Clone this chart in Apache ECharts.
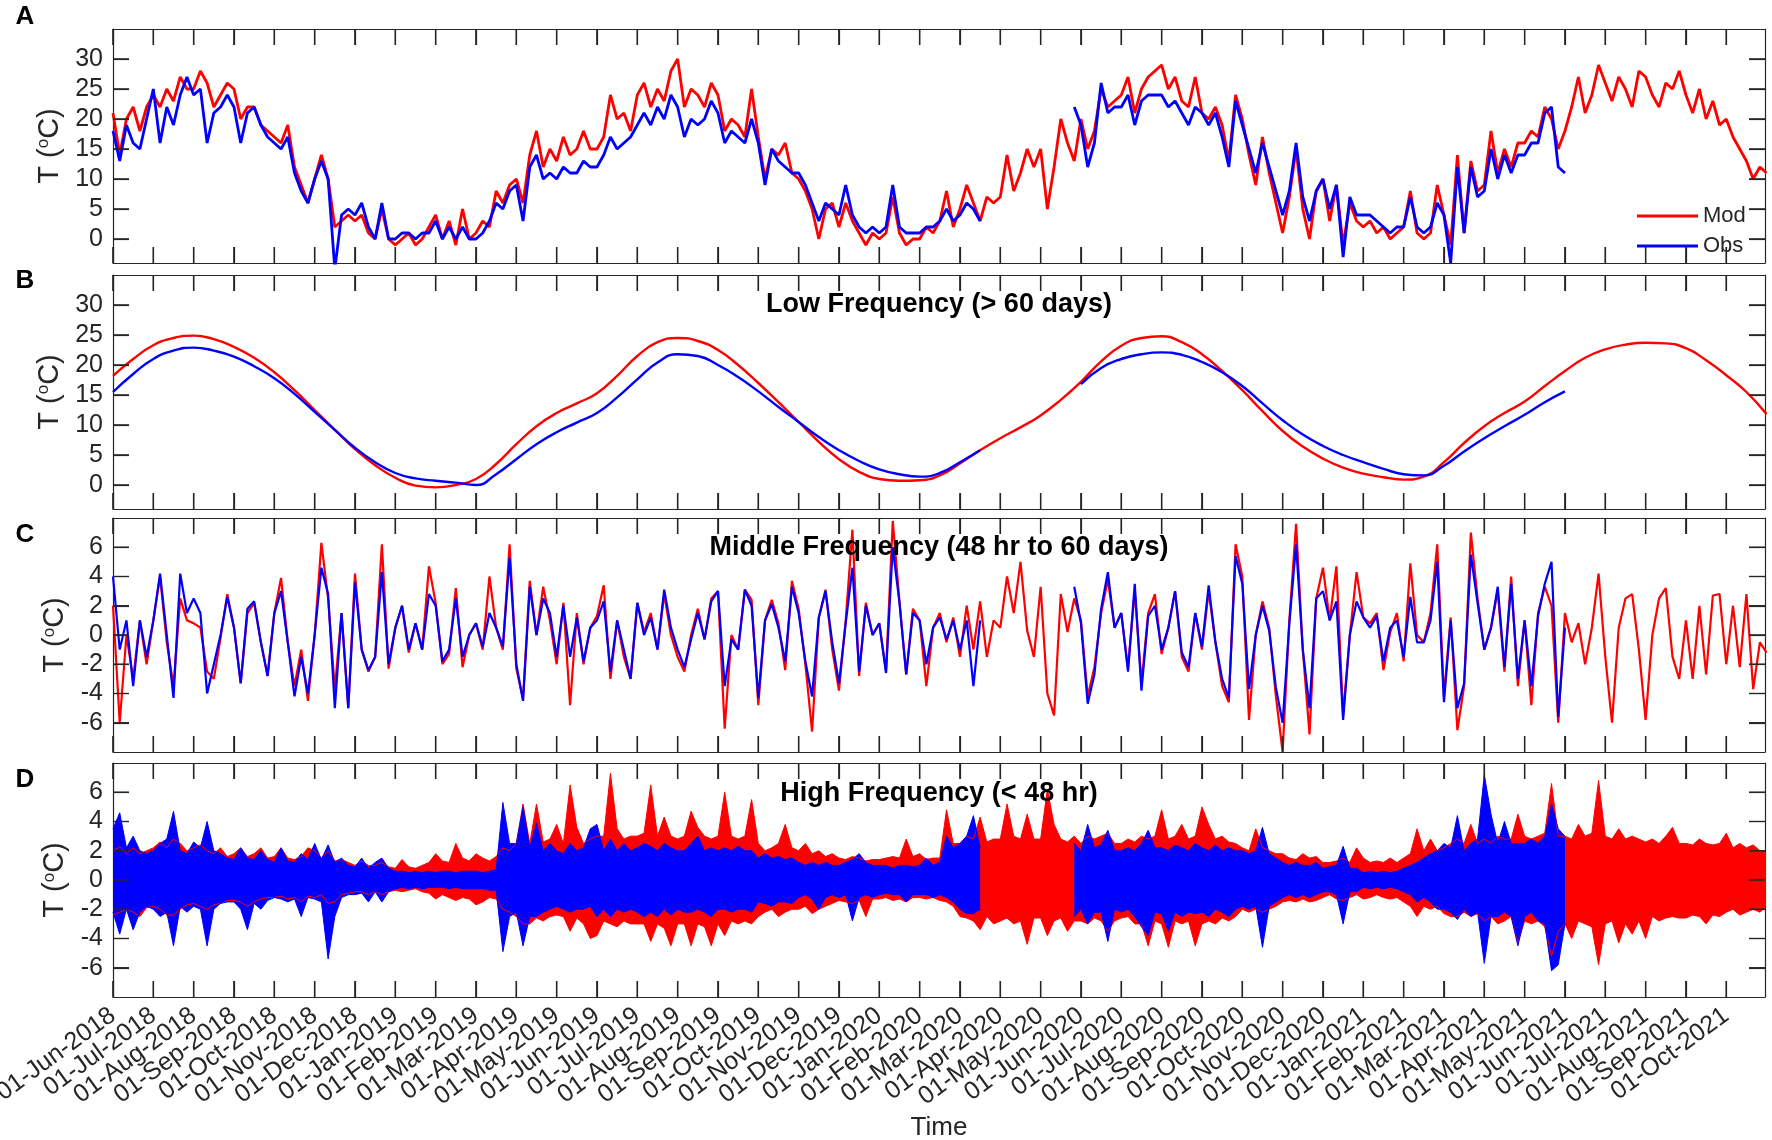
<!DOCTYPE html>
<html>
<head>
<meta charset="utf-8">
<script src="https://cdn.jsdelivr.net/npm/echarts@6/dist/echarts.min.js"></script>
<style>
  html, body { margin: 0; padding: 0; background: #fff; }
  #chart { width: 1772px; height: 1140px; }
</style>
</head>
<body>
<div id="chart"></div>
<script>
// month tick labels (x axis, one per month start)
var monthLabels = [
  '01-Jun-2018','01-Jul-2018','01-Aug-2018','01-Sep-2018','01-Oct-2018','01-Nov-2018','01-Dec-2018',
  '01-Jan-2019','01-Feb-2019','01-Mar-2019','01-Apr-2019','01-May-2019','01-Jun-2019','01-Jul-2019',
  '01-Aug-2019','01-Sep-2019','01-Oct-2019','01-Nov-2019','01-Dec-2019','01-Jan-2020','01-Feb-2020',
  '01-Mar-2020','01-Apr-2020','01-May-2020','01-Jun-2020','01-Jul-2020','01-Aug-2020','01-Sep-2020',
  '01-Oct-2020','01-Nov-2020','01-Dec-2020','01-Jan-2021','01-Feb-2021','01-Mar-2021','01-Apr-2021',
  '01-May-2021','01-Jun-2021','01-Jul-2021','01-Aug-2021','01-Sep-2021','01-Oct-2021'
];
var yTicksTemp = [0, 5, 10, 15, 20, 25, 30];
var yTicksAnom = [-6, -4, -2, 0, 2, 4, 6];

// panel A: temperature, 6 samples per month (step 1/6 month)
var modA = [
  21,14,20,22,18,22, 24,22,25,23,27,25, 25,28,26,22,24,26, 25,20,22,22,19,18,
  17,16,19,12,9,6, 10,14,10,2,3,4, 3,4,1,0,5,0, -1,0,1,-1,0,2,
  4,0,3,-1,5,0, 1,3,2,8,6,9, 10,6,14,18,12,15, 13,17,14,15,18,15,
  15,17,24,20,21,18, 24,26,22,25,23,28, 30,22,25,24,22,26, 24,18,20,19,17,25,
  17,10,15,14,16,11, 10,8,5,0,5,6, 2,6,3,1,-1,1, 0,1,7,1,-1,0,
  0,2,1,3,8,2, 5,9,6,3,7,6, 7,14,8,11,15,12, 15,5,12,20,16,13,
  20,15,18,25,22,23, 24,27,21,25,27,28, 29,25,27,23,22,27, 21,20,22,19,13,24,
  20,14,9,17,11,6, 1,7,15,5,0,8, 10,3,9,-1,6,3, 2,3,1,2,0,1,
  2,8,1,0,1,9, 4,-1,14,1,13,8, 9,18,11,15,12,16, 16,18,17,22,20,15,
  18,22,27,21,24,29, 26,23,27,25,22,28, 27,24,22,26,25,28, 24,21,25,20,23,19,
  20,17,15,13,10,12, 11
];
var obsA = [
  18,13,19,16,15,20, 25,16,22,19,24,27, 24,25,16,21,22,24, 22,16,21,22,19,17,
  16,15,17,11,8,6, 10,13,10,-5,4,5, 4,6,2,0,6,0, 0,1,1,0,1,1,
  3,0,2,0,2,0, 0,1,3,6,5,8, 9,3,12,14,10,11, 10,12,11,11,13,12,
  12,14,17,15,16,17, 19,21,19,22,20,24, 22,17,20,19,20,23, 21,16,18,17,16,20,
  16,9,15,13,12,11, 11,9,6,3,6,5, 4,9,4,2,1,2, 1,2,9,2,1,1,
  1,2,2,3,5,3, 4,6,5,3,null,null, null,null,null,null,null,null, null,null,null,null,null,22,
  19,12,16,26,21,22, 22,24,19,23,24,24, 24,22,23,21,19,22, 21,19,21,17,12,23,
  19,15,11,16,12,8, 4,8,16,7,3,8, 10,5,9,-3,7,4, 4,4,3,2,1,2,
  2,7,2,1,2,6, 4,-4,12,1,12,7, 8,15,10,14,11,14, 14,16,16,21,22,12,
  11
];

// panel B: low frequency, step 1/2 month
var modB = [
  18.2,21.0,23.3,24.5,24.9,24.3,23.0,21.2,18.8,15.8,
  12.5,9.2,6.0,3.3,1.2,-0.1,-0.4,0.0,1.0,3.5,
  6.8,9.8,12.0,13.6,15.3,18.2,21.5,23.8,24.5,24.0,
  22.5,20.0,17.0,13.8,10.5,7.2,4.3,2.2,1.0,0.7,
  0.8,1.6,3.6,5.8,7.8,9.6,11.6,14.2,17.2,20.6,
  23.2,24.5,24.8,23.8,21.8,19.0,15.8,12.3,9.0,6.4,
  4.4,2.9,1.9,1.3,0.9,1.4,3.8,7.0,9.8,12.0,
  13.9,16.5,19.0,21.2,22.6,23.4,23.7,23.6,22.8,20.8,
  18.3,15.5,11.8
];
var obsB = [
  15.5,18.5,21.0,22.4,22.9,22.4,21.4,19.8,17.8,15.2,
  12.2,9.2,6.2,3.8,2.0,1.1,0.7,0.4,0.0,1.8,
  4.3,6.8,8.8,10.4,12.0,14.6,17.6,20.4,21.8,21.5,
  20.0,18.0,15.6,13.0,10.5,8.0,5.8,4.0,2.6,1.8,
  1.4,2.0,3.8,5.8,null,null,null,null,16.8,19.5,
  21.0,21.8,22.1,21.7,20.5,18.8,16.5,13.6,10.8,8.4,
  6.5,5.0,3.8,2.7,1.8,1.6,3.2,5.6,7.8,9.8,
  11.7,13.8,15.6
];

// panel C: middle frequency, step 1/6 month
var modC = [
  2,-6,0,-3,1,-2, 1,4,-0.5,-3.5,2.5,1, 0.8,0.5,-2.5,-3,-0.2,2.8, 0.5,-3.3,1.5,2.2,-0.5,-2.8,
  1.5,3.9,-0.5,-3.5,-1,-4.5, 0,6.3,2.5,-3.7,1.5,-5, 4.2,-1,-2.5,-1.5,6.2,-2.3, 0.5,2,-1.2,0.8,-1,4.7,
  2.2,-2,-1.3,3.2,-2.2,0, 0.8,-1,4,0.5,-1,6.2, -2.3,-4.4,3.7,0,3.3,1, -2,2.2,-4.8,1.5,-2,0.5,
  1.3,3.4,-3,1,-1.5,-3, 2.2,0.2,1.5,-1,2.8,0, -1.5,-2.5,0,1.8,-0.3,2.5, 3,-6.4,0,-1,3.1,2.4,
  -4.8,1,2.4,0.8,-2.4,3.7, 1.8,-2,-6.6,1.2,3.1,-1, -3.8,1,7.2,-2.8,2.2,0, 0.8,-2.5,7.8,2.3,-2.7,1.8,
  1,-3.5,0.5,1.5,-0.5,1.2, -1.5,2,-1,2.3,-1.5,1, 0.5,4,1.5,5,0.3,-1.5, 3.3,-4,-5.5,2.8,0.2,2.5,
  1,-4.2,-2.2,1.5,3.8,0.5, 1.5,-2.3,3,-3.3,1.5,2.8, -1.3,0.5,3,-1.5,-2.5,1.5, -1,3,-0.5,-3.5,-4.6,6.2,
  4,-5.8,0,2.3,0.5,-4.2, -8,1,7.6,-1,-6.8,2.5, 4.6,1,4.7,-5.5,0,4.3, 1.2,0.8,1.5,-2.4,0.2,1.5,
  -1.8,4.9,0,-0.5,1.5,6.2, -4.2,1.2,-6.5,-3.5,7,2.5, -1,0.5,3,-2.5,4,-3.5, 1,-4.8,1.5,3.3,2,-6,
  1.5,-0.5,0.8,-2,0.5,4.2, -1.5,-6,0.5,2.5,2.8,-1, -5.8,0,2.5,3.2,-1.5,-3, 1,-3,2,-2.7,2.7,2.8,
  -2,2,-2.2,2.8,-3.7,-0.5, -1.2
];
var obsC = [
  4,-1,1,-3.5,1,-1.5, 1,4.2,0,-4.3,4.2,1.5, 2.5,1.5,-4,-2,0,2.6, 0.5,-3.3,1.8,2.3,-0.5,-2.8,
  1.5,3,-0.5,-4.2,-1.5,-4, 0,4.6,2.8,-5,1.5,-5, 3.6,-1,-2.4,-1.5,4.3,-2, 0.5,2,-1,0.8,-1,2.8,
  2,-1.8,-1,2.5,-1.5,0, 0.8,-0.8,1.5,0.5,-0.8,5.3, -2,-4.5,3.3,0,2.5,1.5, -1.5,2,-1.5,1.2,-1.8,0.5,
  1,2.3,-2.5,1,-1,-3, 2.2,0,1.2,-1,3.1,0.5, -1,-2.2,-0.3,1.5,-0.3,2.3, 3,-3.5,-0.3,-1,3.1,2,
  -4.3,1,2.1,0.5,-1.8,3.3, 1.5,-1.8,-4.2,1.2,3,-0.5, -3.3,0.8,4.6,-2.5,2,0, 0.8,-2.6,6,2.2,-2.7,1.5,
  1,-2,0.5,1.2,-0.3,1, -1,1,-3.5,1,null,null, null,null,null,null,null,null, null,null,null,null,null,3.3,
  0.8,-4.7,-2.7,1.8,4.3,0.5, 1.5,-2.5,3.5,-3.8,1.3,2, -1,0.5,3,-1.2,-2.2,1.5, -0.8,3.4,-0.5,-3,-4.3,5.4,
  3.5,-3.7,0,2,0.3,-3.6, -6,0.8,6.2,-1,-5,2.5, 3,1,2.3,-5.8,0,2.3, 1.2,0.5,1.3,-1.8,0.5,1,
  -1.5,2.6,-0.5,-0.5,1,5, -4.6,1,-5,-3.3,5.5,2.2, -1,0.5,3.3,-2.2,3.5,-3, 1,-3.5,1.3,3.5,5,-5.6,
  0.5
];

// panel D: high frequency envelope (upper / lower), step 1/6 month
var modDHi = [
  2.0,2.3,1.8,2.2,1.8,2.0, 2.2,2.6,2.2,2.8,2.5,2.0, 2.2,2.4,2.0,1.8,2.2,1.6, 1.8,2.2,1.6,1.8,2.2,1.5,
  1.6,2.2,1.5,1.4,1.6,2.2, 2.0,1.5,2.0,1.3,1.4,1.2, 1.0,1.3,1.0,1.0,1.2,0.9, 0.8,1.4,0.9,0.8,1.0,1.2,
  1.8,1.3,1.2,2.5,1.5,1.3, 1.8,1.5,1.3,1.6,2.2,2.0, 2.5,5.2,2.5,5.2,2.6,2.8, 3.8,2.5,6.5,3.6,2.5,2.8,
  3.0,3.0,7.3,3.5,2.8,3.0, 3.0,3.2,6.5,3.0,4.3,3.0, 2.8,3.0,4.7,3.6,3.0,2.8, 3.0,6.0,3.0,2.8,3.0,5.5,
  2.5,2.0,2.2,2.5,3.8,2.2, 2.0,2.5,1.8,2.0,1.6,1.8, 1.5,1.4,1.6,1.5,1.3,1.4, 1.4,1.5,1.6,1.5,2.8,1.6,
  1.8,1.4,1.5,1.5,4.8,2.5, 2.5,3.0,2.8,4.3,2.6,2.8, 2.8,5.2,3.0,2.8,4.5,2.8, 2.8,6.2,3.8,2.8,2.6,3.0,
  2.5,3.0,2.8,3.0,3.2,2.5, 2.5,2.8,2.6,3.0,2.8,3.0, 4.8,2.8,3.0,3.8,2.8,3.0, 5.0,3.8,2.8,3.0,2.6,2.5,
  2.2,2.0,3.5,2.2,2.0,1.8, 1.8,1.5,1.4,1.8,1.5,1.6, 1.2,1.2,1.3,1.5,1.2,2.2, 1.5,1.2,1.3,1.2,1.5,1.2,
  1.5,1.8,3.5,2.0,2.8,2.0, 2.2,2.5,2.8,2.5,3.8,2.5, 2.8,2.5,3.0,2.8,2.8,4.5, 3.0,2.8,3.0,3.2,6.6,3.0,
  3.0,2.8,3.8,3.0,3.2,6.8, 3.0,2.8,3.5,2.8,3.0,2.8, 2.6,2.8,2.5,3.0,3.6,2.5, 2.5,2.4,2.8,2.5,2.4,2.5,
  3.2,2.2,2.5,2.2,2.4,2.0, 1.8
];
var modDLo = [
  -2.4,-2.2,-2.0,-2.2,-2.5,-1.9, -1.8,-2.0,-2.4,-2.4,-2.0,-1.7, -1.6,-1.8,-2.0,-1.7,-1.6,-1.4, -1.4,-1.5,-1.8,-1.5,-1.3,-1.2,
  -1.2,-1.1,-1.3,-1.2,-1.5,-1.1, -1.2,-1.0,-1.6,-1.5,-1.0,-0.9, -0.8,-0.8,-1.0,-0.8,-1.0,-0.8, -0.7,-0.8,-0.7,-0.6,-0.8,-0.9,
  -1.3,-1.0,-1.2,-1.4,-1.2,-1.3, -1.7,-1.5,-1.2,-1.3,-2.0,-2.2, -2.5,-3.0,-3.0,-2.6,-2.8,-2.5, -2.4,-2.5,-3.5,-2.6,-3.0,-4.0,
  -3.8,-2.8,-3.0,-3.2,-2.8,-3.0, -3.0,-3.0,-4.2,-3.0,-3.3,-4.5, -3.0,-3.0,-4.5,-3.0,-3.2,-4.5, -3.0,-3.8,-2.8,-3.0,-2.8,-3.0,
  -2.5,-2.2,-2.0,-2.5,-2.2,-2.0, -2.0,-1.8,-2.3,-2.0,-1.8,-1.6, -1.4,-1.5,-1.6,-1.4,-2.5,-1.3, -1.3,-1.2,-1.4,-1.3,-1.5,-1.2,
  -1.2,-1.3,-1.2,-1.4,-1.5,-1.8, -2.5,-2.6,-2.8,-3.4,-2.5,-3.0, -2.8,-2.6,-3.0,-2.8,-4.4,-2.6, -2.6,-3.8,-2.8,-2.6,-3.5,-2.8,
  -2.8,-3.0,-2.6,-2.8,-3.5,-2.8, -2.6,-2.5,-3.0,-3.0,-4.5,-2.8, -3.0,-4.6,-2.8,-3.0,-2.8,-4.5, -3.0,-2.8,-3.0,-2.6,-2.8,-2.5,
  -2.0,-2.2,-2.0,-2.2,-2.0,-1.8, -1.5,-1.4,-1.5,-1.3,-1.5,-1.4, -1.2,-1.0,-1.3,-1.4,-1.2,-1.0, -1.3,-1.2,-1.0,-1.2,-1.3,-1.2,
  -1.5,-1.8,-2.5,-1.8,-2.0,-1.8, -2.3,-2.5,-2.5,-2.2,-2.5,-2.3, -2.8,-2.5,-3.0,-2.8,-2.5,-4.3, -2.8,-3.0,-2.8,-3.2,-5.2,-3.5,
  -3.0,-4.0,-2.8,-3.0,-3.2,-5.8, -3.0,-2.8,-4.3,-3.0,-3.7,-2.8, -4.0,-2.5,-2.8,-2.6,-2.5,-2.6, -2.6,-2.4,-2.5,-3.0,-2.4,-2.5,
  -2.2,-2.0,-2.4,-2.2,-2.0,-2.2, -1.8
];
var obsDHi = [
  3.5,4.6,2.2,3.0,2.0,1.8, 2.0,2.5,2.8,4.7,2.0,1.8, 2.6,2.2,4.0,2.0,1.8,1.5, 1.4,2.2,1.5,1.4,2.0,1.4,
  1.2,2.2,1.3,1.2,1.8,1.4, 2.5,1.4,2.4,1.2,1.5,1.0, 0.9,1.5,0.8,1.2,1.5,0.8, 0.6,0.6,0.5,0.6,0.5,0.6,
  0.5,0.6,0.6,0.5,0.6,0.6, 0.6,0.5,0.6,0.7,5.3,2.5, 2.5,5.0,2.2,3.9,2.0,2.5, 2.0,1.8,2.5,2.0,2.2,3.5,
  3.8,2.0,2.8,2.0,2.5,2.0, 2.2,2.5,2.3,2.0,2.5,2.2, 2.0,2.0,2.5,3.0,2.0,2.2, 2.0,2.2,2.0,2.3,2.0,2.0,
  1.5,1.8,1.5,1.6,1.4,1.5, 1.2,1.0,1.2,1.0,1.2,1.0, 1.0,1.2,1.4,1.8,1.2,1.0, 1.0,1.0,0.8,1.0,1.0,0.9,
  1.0,1.5,1.0,1.2,3.0,2.2, 2.5,3.0,4.4,2.2,null,null, null,null,null,null,null,null, null,null,null,null,null,2.5,
  2.0,3.8,2.2,2.4,3.4,2.0, 2.0,2.2,2.0,2.5,3.4,2.2, 2.2,2.0,2.4,2.2,2.0,2.5, 2.2,2.0,2.4,2.0,2.2,2.0,
  2.0,1.8,2.0,3.6,1.8,1.5, 1.2,1.0,1.2,1.0,1.0,1.2, 0.8,0.9,1.0,2.3,0.8,0.8, 0.5,0.6,0.5,0.6,0.5,0.6,
  0.8,1.0,1.2,1.5,1.8,2.0, 2.5,2.2,4.4,2.0,2.5,2.8, 7.2,4.5,2.5,4.0,2.5,2.5, 2.5,2.8,2.5,3.0,5.2,3.5,
  3.0
];
var obsDLo = [
  -2.2,-3.7,-2.0,-3.4,-2.2,-1.8, -2.0,-2.5,-2.2,-4.5,-1.8,-2.2, -1.8,-2.0,-4.5,-2.0,-1.6,-1.5, -1.5,-2.0,-3.4,-1.6,-2.0,-1.4,
  -1.2,-1.3,-1.5,-1.3,-2.5,-1.2, -1.3,-1.5,-5.4,-2.5,-1.2,-1.0, -1.0,-0.9,-1.5,-0.8,-1.5,-0.8, -0.6,-0.5,-0.6,-0.5,-0.6,-0.5,
  -0.5,-0.5,-0.6,-0.5,-0.6,-0.6, -0.6,-0.6,-0.7,-0.7,-4.9,-2.5, -2.2,-4.5,-2.5,-2.5,-2.2,-2.0, -1.8,-2.0,-2.2,-2.0,-2.0,-1.8,
  -2.5,-2.0,-2.5,-2.0,-2.2,-2.0, -2.2,-2.5,-2.2,-2.5,-2.0,-2.4, -2.0,-2.2,-2.2,-2.0,-2.2,-2.5, -2.0,-2.0,-2.2,-2.0,-2.0,-2.2,
  -1.5,-1.6,-1.8,-1.5,-1.5,-1.6, -1.2,-1.0,-1.3,-2.0,-1.2,-1.0, -1.2,-1.0,-2.8,-1.2,-1.0,-1.2, -1.0,-0.9,-1.0,-1.0,-1.5,-1.0,
  -1.0,-1.0,-1.2,-1.0,-1.2,-1.5, -2.0,-2.3,-2.3,-2.0,null,null, null,null,null,null,null,null, null,null,null,null,null,-2.5,
  -2.0,-3.0,-2.2,-2.2,-4.2,-2.0, -2.2,-2.0,-2.5,-3.2,-3.8,-2.2, -2.3,-3.5,-2.2,-2.5,-2.2,-2.3, -2.2,-2.5,-2.0,-2.2,-2.5,-2.0,
  -1.8,-2.0,-1.8,-4.6,-1.8,-1.5, -1.2,-1.0,-1.2,-1.0,-1.2,-1.0, -0.8,-0.8,-1.0,-3.0,-0.8,-0.8, -0.5,-0.6,-0.5,-0.6,-0.5,-0.6,
  -0.8,-1.0,-1.5,-1.2,-1.5,-2.0, -2.0,-2.2,-2.7,-2.0,-2.5,-2.2, -5.7,-2.5,-2.5,-2.2,-2.5,-4.5, -2.5,-2.2,-2.8,-3.0,-6.2,-5.8,
  -3.0
];

var FONT = '"Liberation Sans", Arial, Helvetica, sans-serif';
var INK = '#262626';
var RED = '#ff0000';
var BLUE = '#0000ff';
var tops = [29, 275, 518, 763];
var panelH = 234;
var plotLeft = 113, plotRight = 7;
var plotW = 1772 - plotLeft - plotRight;
var xMax = 40.96;
var tickLen = 16;
var monthIdx = monthLabels.map(function (l, i) { return i; });
var evenMonths = monthIdx.filter(function (i) { return i % 2 === 0; });
var oddMonths = monthIdx.filter(function (i) { return i % 2 === 1; });

function toXY(arr, step) {
  return arr.map(function (v, i) { return [i * step, v]; });
}

var axisLineStyle = { show: true, onZero: false, lineStyle: { color: INK, width: 1.2 } };
var labelFmt = function (v) { return monthLabels[Math.round(v)] || ''; };

function monthAxis(k, pos, labelValues, withName) {
  return {
    gridIndex: k, type: 'value', min: 0, max: xMax, position: pos,
    axisLine: labelValues ? { show: false, onZero: false } : axisLineStyle,
    splitLine: { show: false },
    axisTick: labelValues ? { show: false } :
      { show: true, inside: true, length: tickLen, customValues: monthIdx,
        lineStyle: { color: INK, width: 1.2 } },
    axisLabel: { show: !!labelValues, customValues: labelValues || monthIdx, rotate: 36,
      interval: 0, margin: 16, fontSize: 25, color: INK, fontFamily: FONT, formatter: labelFmt },
    name: withName ? 'Time' : '',
    nameLocation: 'middle', nameGap: 118,
    nameTextStyle: { fontSize: 26, color: INK, fontFamily: FONT }
  };
}

var grids = [], xAxes = [], yAxes = [], yRange = [];
tops.forEach(function (t, k) {
  grids.push({ left: plotLeft, right: plotRight, top: t, height: panelH, show: false,
    outerBoundsMode: 'none', containLabel: false });
  xAxes.push(monthAxis(k, 'bottom', null, false));
  xAxes.push(monthAxis(k, 'top', null, false));
  var temp = k < 2;
  var ticks = temp ? yTicksTemp : yTicksAnom;
  yRange.push(temp ? [-4, 35] : [-8, 8]);
  ['left', 'right'].forEach(function (pos) {
    yAxes.push({
      gridIndex: k, type: 'value', position: pos,
      min: temp ? -4 : -8, max: temp ? 35 : 8,
      axisLine: axisLineStyle, splitLine: { show: false },
      axisTick: { show: true, inside: true, length: tickLen, customValues: ticks,
        lineStyle: { color: INK, width: 1.2 } },
      axisLabel: { show: pos === 'left', customValues: ticks, margin: 10,
        fontSize: 25, color: INK, fontFamily: FONT },
      name: pos === 'left' ? 'T ({s|o}C)' : '',
      nameLocation: 'middle', nameRotate: 90, nameGap: 40,
      nameTextStyle: { fontSize: 29, color: INK, fontFamily: FONT,
        rich: { s: { fontSize: 17, verticalAlign: 'top', color: INK, fontFamily: FONT } } }
    });
  });
});
// month labels under panel D, split over two label-only axes so none get dropped
xAxes.push(monthAxis(3, 'bottom', evenMonths, true));
xAxes.push(monthAxis(3, 'bottom', oddMonths, false));

// inward tick marks on all four sides of each panel, drawn as short segments in data space
function tickMarks(k) {
  var yt = k < 2 ? yTicksTemp : yTicksAnom;
  var yr = yRange[k];
  var dy = tickLen * (yr[1] - yr[0]) / panelH;
  var dx = tickLen * xMax / plotW;
  var pts = [];
  monthIdx.forEach(function (m) {
    pts.push([m, yr[0]], [m, yr[0] + dy], [m, null]);
    pts.push([m, yr[1]], [m, yr[1] - dy], [m, null]);
  });
  yt.forEach(function (v) {
    pts.push([0, v], [dx, v], [dx, null]);
    pts.push([xMax, v], [xMax - dx, v], [xMax, null]);
  });
  return {
    type: 'line', xAxisIndex: 2 * k, yAxisIndex: 2 * k, data: pts,
    showSymbol: false, symbol: 'none', silent: true, connectNulls: false, z: 6, clip: false,
    lineStyle: { color: INK, width: 1.2 }, itemStyle: { color: INK }
  };
}

// the same tick marks again as thin bar-shaped symbols anchored on the panel edges
function tickSymbols(k) {
  var yt = k < 2 ? yTicksTemp : yTicksAnom;
  var yr = yRange[k];
  var h = tickLen / 2;
  var pts = [];
  monthIdx.forEach(function (m) {
    pts.push({ value: [m, yr[0]], symbolSize: [1.2, tickLen], symbolOffset: [0, -h] });
    pts.push({ value: [m, yr[1]], symbolSize: [1.2, tickLen], symbolOffset: [0, h] });
  });
  yt.forEach(function (v) {
    pts.push({ value: [0, v], symbolSize: [tickLen, 1.2], symbolOffset: [h, 0] });
    pts.push({ value: [xMax, v], symbolSize: [tickLen, 1.2], symbolOffset: [-h, 0] });
  });
  return {
    type: 'scatter', xAxisIndex: 2 * k, yAxisIndex: 2 * k, data: pts, symbol: 'rect',
    silent: true, clip: false, z: 7, itemStyle: { color: INK, opacity: 1 }
  };
}

function line(name, color, k, data, width, extra) {
  var s = {
    type: 'line', name: name, xAxisIndex: 2 * k, yAxisIndex: 2 * k, data: data,
    showSymbol: false, symbol: 'none', silent: true,
    lineStyle: { color: color, width: width }, itemStyle: { color: color }
  };
  for (var p in extra) s[p] = extra[p];
  return s;
}

function area(name, color, data) {
  return line(name, color, 3, data, 1, { areaStyle: { color: color, opacity: 1 } });
}

var series = [
  line('Mod', RED, 0, toXY(modA, 1 / 6), 2.8),
  line('Obs', BLUE, 0, toXY(obsA, 1 / 6), 2.8),
  line('Mod', RED, 1, toXY(modB, 0.5), 2.4, { smooth: true }),
  line('Obs', BLUE, 1, toXY(obsB, 0.5), 2.4, { smooth: true }),
  line('Mod', RED, 2, toXY(modC, 1 / 6), 2.2),
  line('Obs', BLUE, 2, toXY(obsC, 1 / 6), 2.2),
  area('Mod', RED, toXY(modDHi, 1 / 6)),
  area('Mod', RED, toXY(modDLo, 1 / 6)),
  area('Obs', BLUE, toXY(obsDHi, 1 / 6)),
  area('Obs', BLUE, toXY(obsDLo, 1 / 6))
];
[0, 1, 2, 3].forEach(function (k) {
  series.push(tickMarks(k));
  series.push(tickSymbols(k));
});

function txt(x, y, s, size, bold) {
  return { type: 'text', x: x, y: y, z: 100, silent: true,
    style: { text: s, fontSize: size, fontWeight: bold ? 'bold' : 'normal', fontFamily: FONT,
      fill: '#000', align: 'center', verticalAlign: 'middle',
      textAlign: 'center', textVerticalAlign: 'middle' } };
}

var option = {
  animation: false,
  backgroundColor: '#fff',
  grid: grids, xAxis: xAxes, yAxis: yAxes,
  legend: {
    data: ['Mod', 'Obs'], orient: 'vertical', left: 1632, top: 200,
    icon: 'rect', itemWidth: 61, itemHeight: 3, itemGap: 8, selectedMode: false,
    textStyle: { fontSize: 22, color: INK, fontFamily: FONT, lineHeight: 22 }
  },
  graphic: [
    txt(25, 17, 'A', 26, true),
    txt(25, 281, 'B', 26, true),
    txt(25, 535, 'C', 26, true),
    txt(25, 780, 'D', 26, true),
    txt(939, 305, 'Low Frequency (> 60 days)', 27, true),
    txt(939, 548, 'Middle Frequency (48 hr to 60 days)', 27, true),
    txt(939, 794, 'High Frequency (< 48 hr)', 27, true)
  ],
  series: series
};

var chart = echarts.init(document.getElementById('chart'));
chart.setOption(option);
</script>
</body>
</html>
